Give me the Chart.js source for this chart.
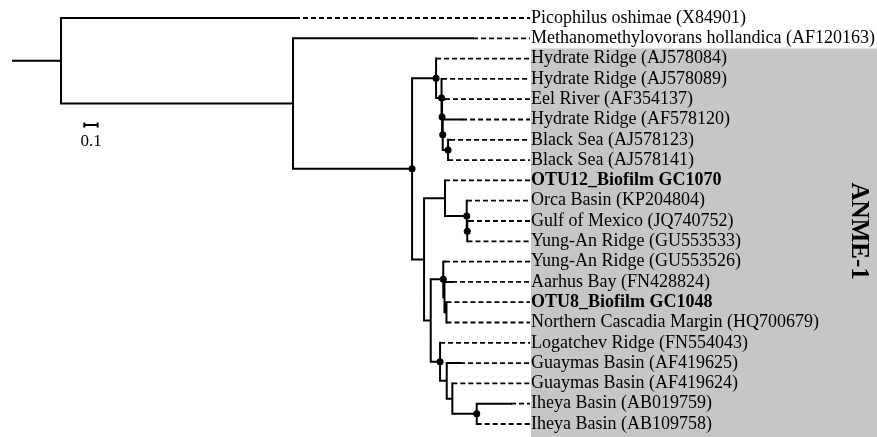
<!DOCTYPE html>
<html>
<head>
<meta charset="utf-8">
<script src="https://cdn.jsdelivr.net/npm/chart.js@4"></script>
<style>
  html, body { margin: 0; padding: 0; background: #fff; }
  #wrap { width: 877px; height: 437px; }
</style>
</head>
<body>
<div id="wrap"><canvas id="tree"></canvas></div>
<script>
// leaves, top to bottom
const leafNames = [
  'Picophilus oshimae (X84901)',
  'Methanomethylovorans hollandica (AF120163)',
  'Hydrate Ridge (AJ578084)',
  'Hydrate Ridge (AJ578089)',
  'Eel River (AF354137)',
  'Hydrate Ridge (AF578120)',
  'Black Sea (AJ578123)',
  'Black Sea (AJ578141)',
  'OTU12_Biofilm GC1070',
  'Orca Basin (KP204804)',
  'Gulf of Mexico (JQ740752)',
  'Yung-An Ridge (GU553533)',
  'Yung-An Ridge (GU553526)',
  'Aarhus Bay (FN428824)',
  'OTU8_Biofilm GC1048',
  'Northern Cascadia Margin (HQ700679)',
  'Logatchev Ridge (FN554043)',
  'Guaymas Basin (AF419625)',
  'Guaymas Basin (AF419624)',
  'Iheya Basin (AB019759)',
  'Iheya Basin (AB109758)'
];
// distance from root to each tip, and the node it hangs from
const leafDist = [2.115, 3.450, 3.173, 3.218, 3.240, 3.368, 3.278, 3.263, 3.240, 3.405, 3.420,
                  3.409, 3.240, 3.293, 3.251, 3.251, 3.203, 3.353, 3.295, 3.735, 3.478];
const leafParent = [0, 1, 3, 4, 5, 6, 7, 7, 9, 10, 11, 11, 13, 14, 15, 15, 16, 17, 18, 19, 19];

// internal nodes
const nodeDist = [0.360, 2.100, 2.993, 3.173, 3.214, 3.218, 3.223, 3.263, 3.083, 3.240,
                  3.403, 3.407, 3.133, 3.227, 3.236, 3.251, 3.203, 3.253, 3.295, 3.478];
const nodeParent = [-1, 0, 1, 2, 3, 4, 5, 6, 2, 8, 9, 10, 8, 12, 13, 14, 12, 16, 17, 18];
const nodeSupport = [0, 0, 1, 1, 1, 1, 1, 1, 0, 0, 1, 1, 0, 1, 0, 0, 1, 0, 0, 1];

const cladeName = 'ANME-1';
const cladeLeaves = [2, 20];
const scaleBarLength = 0.1;

// layout
const labelDist = 3.8775;
const barStart = 0.535;
const barY = 5.27;

// node y = middle of first and last child
const nodeY = nodeDist.map(() => null);
const nodeSpan = nodeDist.map(() => [Infinity, -Infinity]);
leafParent.forEach((p, i) => {
  nodeSpan[p][0] = Math.min(nodeSpan[p][0], i);
  nodeSpan[p][1] = Math.max(nodeSpan[p][1], i);
});
for (let j = nodeDist.length - 1; j >= 0; j--) {
  nodeY[j] = (nodeSpan[j][0] + nodeSpan[j][1]) / 2;
  const p = nodeParent[j];
  if (p >= 0) {
    nodeSpan[p][0] = Math.min(nodeSpan[p][0], nodeY[j]);
    nodeSpan[p][1] = Math.max(nodeSpan[p][1], nodeY[j]);
  }
}

const solid = [];
const dashed = [];
const seg = (arr, x1, y1, x2, y2) => arr.push({x: x1, y: y1}, {x: x2, y: y2}, {x: null, y: null});

nodeDist.forEach((d, j) => {
  seg(solid, d, nodeSpan[j][0], d, nodeSpan[j][1]);
  const px = nodeParent[j] >= 0 ? nodeDist[nodeParent[j]] : 0;
  seg(solid, px, nodeY[j], d, nodeY[j]);
});
leafDist.forEach((d, i) => {
  const px = nodeDist[leafParent[i]];
  if (d > px) seg(solid, px, i, d, i);
  seg(dashed, d, i, labelDist, i);
});

const dots = nodeDist.map((d, j) => ({x: d, y: nodeY[j]})).filter((_, j) => nodeSupport[j]);

const bar = [];
seg(bar, barStart, barY, barStart + scaleBarLength, barY);
seg(bar, barStart, barY - 0.12, barStart, barY + 0.12);
seg(bar, barStart + scaleBarLength, barY - 0.12, barStart + scaleBarLength, barY + 0.12);

const decor = {
  id: 'decor',
  beforeDraw(chart) {
    const {ctx, chartArea, scales: {y}} = chart;
    const top = y.getPixelForValue(cladeLeaves[0] - 0.5);
    ctx.save();
    ctx.fillStyle = '#c6c6c6';
    ctx.fillRect(chartArea.right + 1, top, chart.width - chartArea.right - 1, chart.height - top);
    ctx.restore();
  },
  afterDraw(chart) {
    const {ctx, scales: {x, y}} = chart;
    ctx.save();
    ctx.fillStyle = '#000';
    ctx.textAlign = 'center';
    ctx.textBaseline = 'middle';
    ctx.font = '17px "Liberation Serif"';
    ctx.fillText(String(scaleBarLength), x.getPixelForValue(barStart + scaleBarLength / 2),
                 y.getPixelForValue(barY) + 16.5);
    ctx.translate(chart.width - 19, y.getPixelForValue(10.5));
    ctx.rotate(Math.PI / 2);
    ctx.font = 'bold 25px "Liberation Serif"';
    ctx.fillText(cladeName, 0, 0);
    ctx.restore();
  }
};

new Chart(document.getElementById('tree'), {
  type: 'scatter',
  data: {
    datasets: [
      {data: dots, pointRadius: 3.5, pointBackgroundColor: '#000', pointBorderWidth: 0, clip: false},
      {data: solid, showLine: true, borderColor: '#000', borderWidth: 2, borderCapStyle: 'square',
       pointRadius: 0, clip: false},
      {data: dashed, showLine: true, borderColor: '#000', borderWidth: 1.8, borderDash: [5, 3],
       pointRadius: 0, clip: false},
      {data: bar, showLine: true, borderColor: '#000', borderWidth: 2, pointRadius: 0, clip: false}
    ]
  },
  options: {
    responsive: true,
    maintainAspectRatio: false,
    animation: false,
    spanGaps: false,
    layout: {autoPadding: false, padding: {left: 13, right: 0, top: 0, bottom: 0}},
    plugins: {legend: {display: false}, tooltip: {enabled: false}},
    scales: {
      x: {type: 'linear', min: 0, max: labelDist, display: false},
      y: {
        type: 'linear',
        position: 'right',
        reverse: true,
        bounds: 'data',
        min: -0.887,
        max: 20.640,
        grid: {display: false, drawTicks: false},
        border: {display: false},
        afterBuildTicks: (scale) => { scale.ticks = leafNames.map((n, i) => ({value: i})); },
        afterFit: (scale) => {
          scale.width = 347;
          scale.paddingTop = 0;
          scale.paddingBottom = 0;
        },
        ticks: {
          autoSkip: false,
          padding: 1,
          color: '#000',
          callback: (v) => leafNames[v],
          font: (ctx) => ({
            family: 'Liberation Serif',
            size: 18,
            weight: leafNames[ctx.index] && leafNames[ctx.index].startsWith('OTU') ? 'bold' : 'normal'
          })
        }
      }
    }
  },
  plugins: [decor]
});
</script>
</body>
</html>
